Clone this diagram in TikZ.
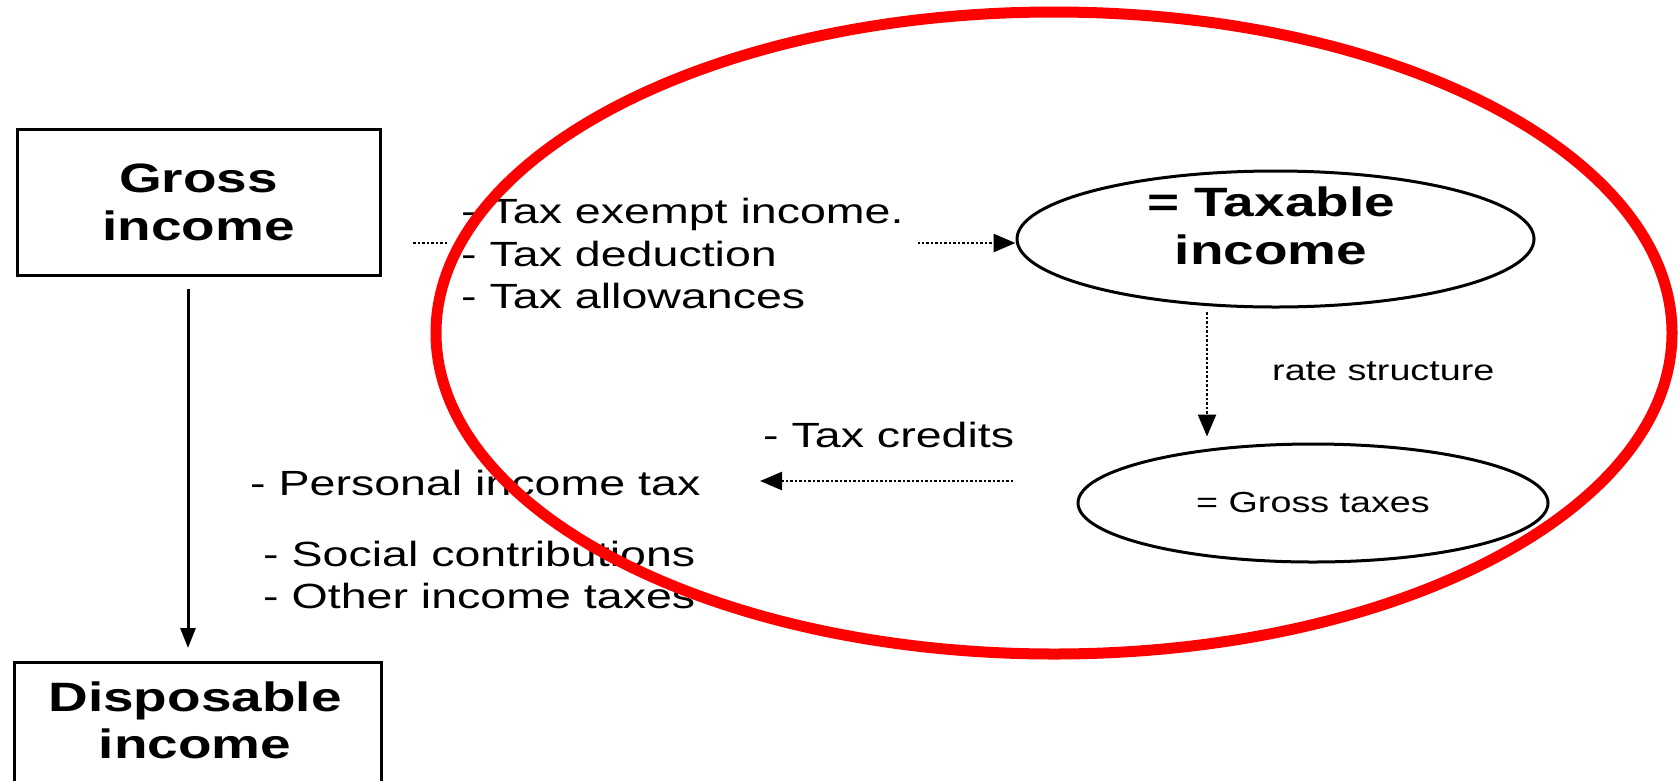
\documentclass[tikz,border=0pt]{standalone}
\usepackage{fontspec}
\setmainfont{Liberation Sans}[FakeStretch=1.3]
\newfontfamily\itemfont{Liberation Sans}[FakeStretch=1.33]
\newfontfamily\titlefont{Liberation Sans}[FakeStretch=1.34]
\usetikzlibrary{shapes.geometric,arrows.meta}
\tikzset{
    income-box/.style = {draw, line width=3pt, rectangle, minimum width=363pt, inner sep=0pt},
    oval-box/.style = {draw, line width=3pt, ellipse, inner sep=0pt},
    title-text/.style = {font=\titlefont\bfseries\fontsize{41}{48}\selectfont, align=center, inner sep=0pt},
    item-text/.style = {font=\itemfont\fontsize{35}{42.5}\selectfont, align=left, inner sep=0pt},
    note-text/.style = {font=\fontsize{29}{35}\selectfont, inner sep=0pt},
    dotted-arrow/.style = {line width=2.5pt, dash pattern=on 2.5pt off 2pt, -{Triangle[length=22pt, width=18pt]}},
    solid-arrow/.style = {line width=3pt, -{Triangle[length=20pt, width=15pt]}},
}
\begin{document}
\begin{tikzpicture}[x=1pt, y=-1pt]
\useasboundingbox[fill=white] (0,0) rectangle (1678,780);
\node[income-box, title-text, minimum height=146pt] (gross) at (198.5,202) {Gross\\income};
\node[income-box, minimum width=367pt, minimum height=140pt, anchor=north west] (disposable) at (13,661) {};
\node[title-text, font=\titlefont\bfseries\fontsize{41}{47}\selectfont, anchor=north] (disposablelbl) at (195,682) {Disposable\\income};
\node[oval-box, minimum width=517pt, minimum height=136pt] (taxable) at (1275.5,239) {};
\node[title-text, anchor=north] (taxablelbl) at (1271,187) {= Taxable\\income};
\node[oval-box, note-text, minimum width=470pt, minimum height=118pt] (grosstax) at (1313,503) {= Gross taxes};
\coordinate (exstart) at (413,243);
\draw[dotted-arrow] (exstart) -- (exstart -| taxable.west);
\node[item-text, fill=white, inner xsep=14pt, inner ysep=4pt, anchor=north west] (exempt) at (447,194) {- Tax exempt income.\\- Tax deduction\\- Tax allowances};
\coordinate (ratestart) at (1207,312);
\draw[dotted-arrow, shorten >=6pt] (ratestart) -- (ratestart |- grosstax.north);
\node[note-text, anchor=base west] (rate) at (1272,380) {rate structure};
\node[item-text, anchor=base west] (credits) at (763,447) {- Tax credits};
\coordinate (crstart) at (1013,481);
\coordinate (crend) at (760,481);
\draw[dotted-arrow] (crstart) -- (crend);
\node[item-text, anchor=base west] (pit) at (250,495) {- Personal income tax};
\node[item-text, anchor=north west] (social) at (263,540.5) {- Social contributions\\- Other income taxes};
\draw[solid-arrow, shorten <=12pt, shorten >=13pt] ([xshift=-10.5pt]gross.south) -- ([xshift=-10.5pt]gross.south |- disposable.north);
\node[draw=red, ellipse, line width=11pt, minimum width=1236pt, minimum height=642pt] (focus) at (1054,333) {};
\end{tikzpicture}
\end{document}
